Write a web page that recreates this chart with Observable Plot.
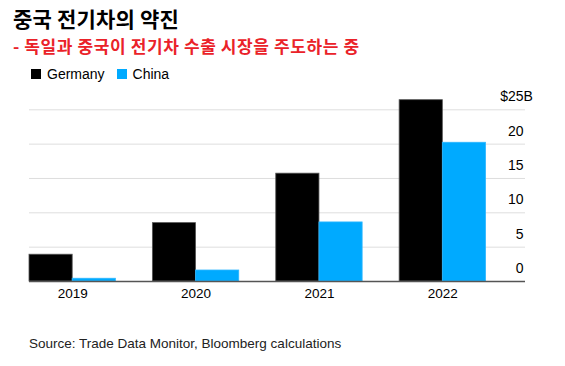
<!DOCTYPE html>
<html>
<head>
<meta charset="utf-8">
<script src="https://cdn.jsdelivr.net/npm/d3@7"></script>
<script src="https://cdn.jsdelivr.net/npm/@observablehq/plot@0.6"></script>
<style>
  html, body { margin: 0; padding: 0; background: #fff; width: 565px; height: 366px; overflow: hidden; }
  body { position: relative; font-family: "Liberation Sans", Arial, sans-serif; }
  .title { position: absolute; left: 13px; top: 4px; font-family: "Noto Sans CJK KR", sans-serif; font-weight: 700; font-size: 21px; letter-spacing: 0.2px; line-height: 28px; color: #000; white-space: nowrap; }
  .subtitle { position: absolute; left: 13px; top: 35px; font-family: "Noto Sans CJK KR", sans-serif; font-weight: 700; font-size: 17px; letter-spacing: 0.6px; line-height: 22px; color: #ea2229; white-space: nowrap; }
  .legend { position: absolute; left: 31px; top: 65px; font-size: 14px; line-height: 18px; color: #000; display: flex; align-items: center; white-space: nowrap; }
  .legend .sw { display: inline-block; width: 10px; height: 10px; margin-right: 6px; }
  .legend .item { display: flex; align-items: center; margin-right: 12px; }
  #chart { position: absolute; left: 0; top: 86px; }
  .source { position: absolute; left: 29px; top: 336px; font-size: 13.5px; line-height: 16px; color: #222; white-space: nowrap; }
</style>
</head>
<body>
<div class="title" id="title"></div>
<div class="subtitle" id="subtitle"></div>
<div class="legend" id="legend"></div>
<div id="chart"></div>
<div class="source" id="source"></div>
<script>
const titleText = "중국 전기차의 약진";
const subtitleText = "- 독일과 중국이 전기차 수출 시장을 주도하는 중";
const sourceText = "Source: Trade Data Monitor, Bloomberg calculations";

const years = [2019, 2020, 2021, 2022];
const seriesNames = ["Germany", "China"];
const seriesColors = ["#000000", "#00aaff"];
const germany = [3.9, 8.5, 15.7, 26.4];
const china = [0.4, 1.6, 8.6, 20.2];
const yTicks = [0, 5, 10, 15, 20, 25];
const gridTicks = [5, 10, 15, 20, 25];

document.getElementById("title").textContent = titleText;
document.getElementById("subtitle").textContent = subtitleText;
document.getElementById("source").textContent = sourceText;

const legend = document.getElementById("legend");
seriesNames.forEach((name, i) => {
  const item = document.createElement("span");
  item.className = "item";
  const sw = document.createElement("span");
  sw.className = "sw";
  sw.style.background = seriesColors[i];
  item.appendChild(sw);
  item.appendChild(document.createTextNode(name));
  legend.appendChild(item);
});

const half = 0.35;
const rows = [];
years.forEach((yr, i) => {
  rows.push({year: yr, series: "Germany", value: germany[i], x1: yr - half, x2: yr});
  rows.push({year: yr, series: "China", value: china[i], x1: yr, x2: yr + half});
});

const chart = Plot.plot({
  width: 565,
  height: 224,
  marginLeft: 29,
  marginRight: 40,
  marginTop: 23.3,
  marginBottom: 29,
  style: {fontFamily: "'Liberation Sans', Arial, sans-serif", background: "#fff"},
  x: {domain: [2018.65, 2022.67], axis: null},
  y: {domain: [0, 25], axis: null},
  color: {domain: seriesNames, range: seriesColors},
  marks: [
    Plot.ruleY(gridTicks, {stroke: "#dedede", strokeWidth: 1}),
    Plot.rectY(rows, {x1: "x1", x2: "x2", y1: 0, y2: "value", fill: "series",
      stroke: d => d.series === "Germany" ? "#555" : "#2cb6ff", strokeWidth: 0.8}),
    Plot.ruleY([0], {stroke: "#555", strokeWidth: 1.3}),
    Plot.text(yTicks.filter(d => d !== 25), {y: d => d, text: d => String(d), frameAnchor: "right", textAnchor: "end", dx: -2, dy: -13, fontSize: 14, fill: "#000"}),
    Plot.text(yTicks.filter(d => d === 25), {y: d => d, text: d => "$" + d, frameAnchor: "right", textAnchor: "end", dx: -2, dy: -13, fontSize: 14, fill: "#000"}),
    Plot.text(yTicks.filter(d => d === 25), {y: d => d, text: d => "B", frameAnchor: "right", textAnchor: "start", dx: -2, dy: -13, fontSize: 14, fill: "#000"}),
    Plot.text(years, {x: d => d, text: d => String(d), frameAnchor: "bottom", dy: 16, fontSize: 13.5, fill: "#000"})
  ]
});
document.getElementById("chart").appendChild(chart);
</script>
</body>
</html>
